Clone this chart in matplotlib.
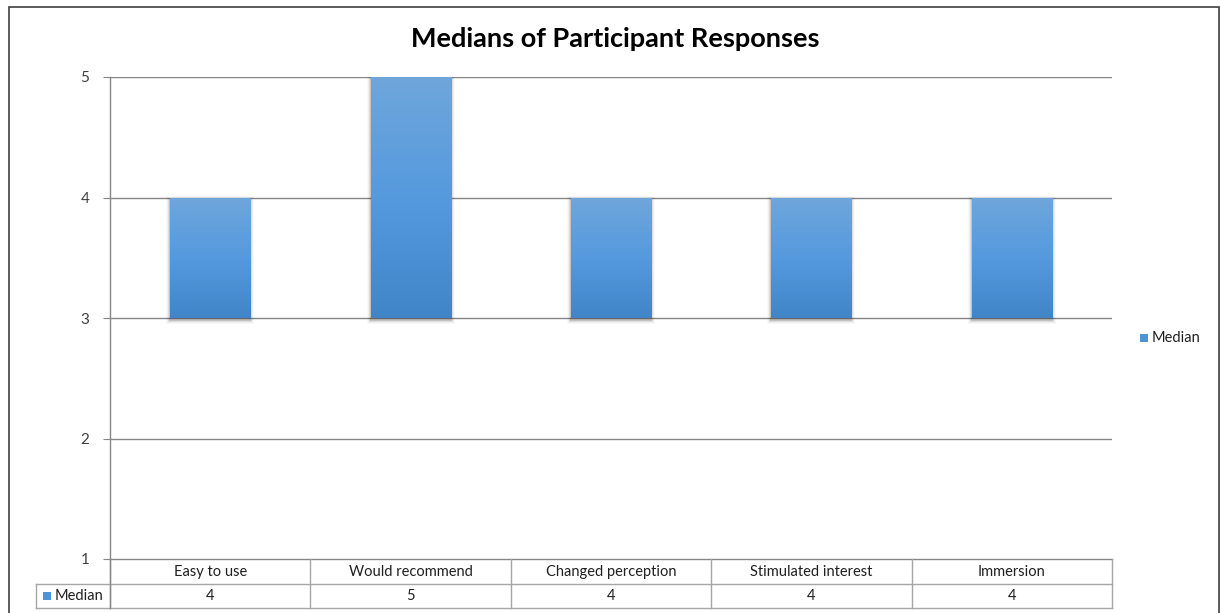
import numpy as np
import matplotlib
matplotlib.use("Agg")
import matplotlib.pyplot as plt
from matplotlib.patches import Rectangle
from matplotlib.colors import LinearSegmentedColormap

categories = ["Easy to use", "Would recommend", "Changed perception", "Stimulated interest", "Immersion"]
medians = [4, 5, 4, 4, 4]
series_name = "Median"
yticks = [1, 2, 3, 4, 5]
baseline = 3

plt.rcParams['font.family'] = ['Lato', 'DejaVu Sans']

W, H = 1221, 613
fig = plt.figure(figsize=(W / 100, H / 100), dpi=100)
fig.patch.set_facecolor('white')

def fx(px):
    return px / W

def fy(py):
    return 1 - py / H

L, R, T, B = 110, 1112, 77, 559
ax = fig.add_axes([fx(L), fy(B), fx(R) - fx(L), fy(T) - fy(B)])

grid_c = '#868686'
table_c = '#a6a6a6'
x = np.arange(len(categories))
bars = ax.bar(x, np.array(medians) - baseline, bottom=baseline, width=0.4,
              color='#4f94d4', zorder=3, edgecolor='none')

pxx = (R - L) / len(categories)   # pixels per x unit
pxy = (B - T) / (yticks[-1] - yticks[0])  # pixels per y unit

cmap = LinearSegmentedColormap.from_list('g', ['#4185c9', '#559ade', '#6fa6db'])
grad = np.linspace(0, 1, 256).reshape(-1, 1)
for b in bars:
    x0, y0 = b.get_x(), b.get_y()
    w, h = b.get_width(), b.get_height()
    # soft shadow (offset downward slightly)
    for p, a in [(1, 0.12), (2, 0.07), (3, 0.04), (4, 0.025)]:
        ax.add_patch(Rectangle((x0 - p / pxx, y0 - (p + 2) / pxy),
                               w + 2 * p / pxx, h + (2 * p) / pxy,
                               facecolor='black', alpha=a, edgecolor='none', zorder=2))
    im = ax.imshow(grad, extent=[x0, x0 + w, y0, y0 + h], origin='lower',
                   aspect='auto', cmap=cmap, zorder=4)
    im.set_clip_path(b)

ax.set_xlim(-0.5, len(categories) - 0.5)
ax.set_ylim(1, 5)
ax.set_yticks(yticks)
ax.set_yticklabels([str(v) for v in yticks], fontsize=11, color='#404040')
ax.set_xticks([])
ax.tick_params(axis='y', length=5, color=grid_c, pad=10)
for s in ['top', 'right']:
    ax.spines[s].set_visible(False)
for s in ['left', 'bottom']:
    ax.spines[s].set_color(grid_c)
    ax.spines[s].set_linewidth(1)
ax.spines['left'].set_zorder(1)
for v in yticks[1:]:
    ax.axhline(v, color=grid_c, lw=1, zorder=1)

# Data table below axes (axes coordinates)
ph = B - T
pw = R - L
def ay(py):
    return (B - py) / ph
def axx(px):
    return (px - L) / pw

r1_bot = ay(584)
r2_bot = ay(608)
leg_left = axx(36)
tr = ax.transAxes
kw = dict(color=table_c, lw=1, transform=tr, clip_on=False, zorder=5)
ax.plot([leg_left, 1], [r1_bot, r1_bot], **kw)
ax.plot([leg_left, 1], [r2_bot, r2_bot], **kw)
n = len(categories)
for i in range(n + 1):
    ax.plot([i / n, i / n], [0, r2_bot], **kw)
ax.plot([0, 0], [0, r2_bot], color=grid_c, lw=1, transform=tr, clip_on=False, zorder=6)
ax.plot([leg_left, leg_left], [r1_bot, r2_bot], **kw)
for i, (c, v) in enumerate(zip(categories, medians)):
    ax.text((i + 0.5) / n, ay(572), c, transform=tr, ha='center', va='center',
            fontsize=10.5, color='#202020')
    ax.text((i + 0.5) / n, ay(596.5), str(v), transform=tr, ha='center',
            va='center', fontsize=10.5, color='#202020')
ax.add_patch(Rectangle((axx(43), ay(600)), axx(51) - axx(43), ay(592) - ay(600),
                       transform=tr, facecolor='#4f94d4', edgecolor='none', clip_on=False))
ax.text(axx(55), ay(596.5), series_name, transform=tr, ha='left', va='center',
        fontsize=10.5, color='#202020')

# right legend
fig.patches.append(Rectangle((fx(1140), fy(342)), fx(8), 8 / H, transform=fig.transFigure,
                             facecolor='#4f94d4', edgecolor='none'))
fig.text(fx(1152), fy(338.5), series_name, ha='left', va='center', fontsize=10.5, color='#202020')

# title
fig.text(fx(615), fy(39), "Medians of Participant Responses", ha='center', va='center',
         fontsize=19.5, fontweight='bold', color='black')

# outer frame
fig.patches.append(Rectangle((fx(9), -0.02), fx(1219) - fx(9), fy(7) + 0.02,
                             transform=fig.transFigure, facecolor='none',
                             edgecolor='#404040', lw=1.2))

fig.savefig('out.png', dpi=100)
